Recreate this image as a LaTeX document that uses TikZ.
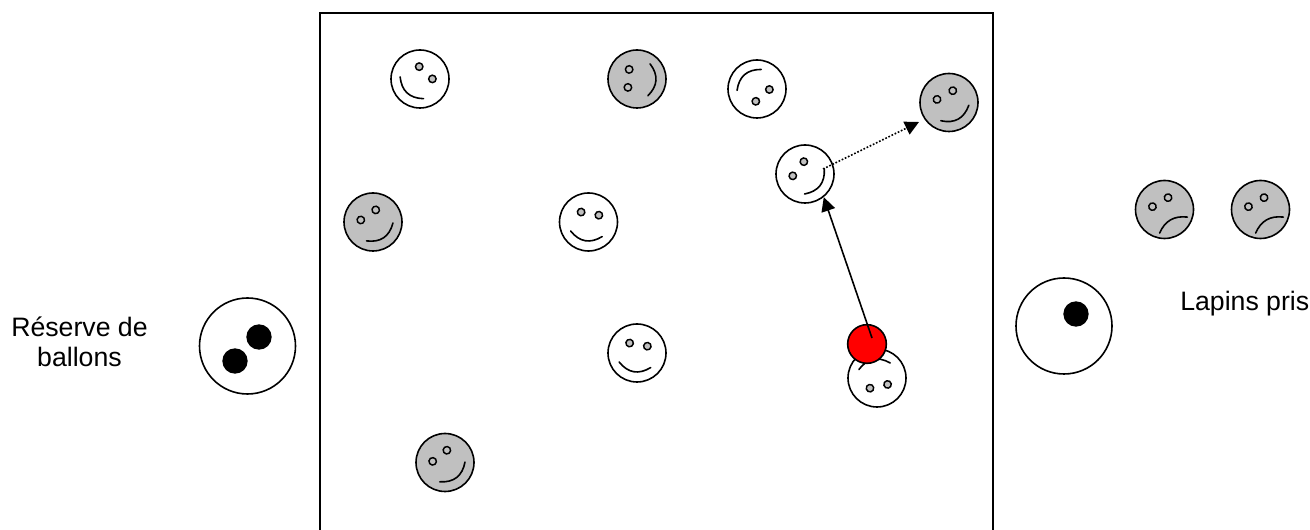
\documentclass[tikz,border=0pt]{standalone}
\usepackage{fontspec}
\setmainfont{Liberation Sans}
\usetikzlibrary{arrows.meta}
\definecolor{gris}{HTML}{C0C0C0}
\tikzset{
	lapin/.style={circle, draw, line width=1.2pt, minimum size=43.5pt, inner sep=0pt},
	oeil/.style={draw, fill=gris, line width=1.1pt},
	bouche/.style={line width=1.2pt, line cap=round},
	sac/.style={circle, draw, fill=white, line width=1.2pt, minimum size=72pt, inner sep=0pt},
	ballon/.style={circle, fill=black, minimum size=19pt, inner sep=0pt},
	balle/.style={circle, draw, fill=red, line width=1.2pt, minimum size=29pt, inner sep=0pt},
	fleche/.style={line width=1.2pt, -{Triangle[length=10.5pt, width=10.5pt]}},
	legende/.style={align=center, font=\fontsize{20}{22.5}\selectfont}
}
\begin{document}
\begin{tikzpicture}[x=0.75pt, y=-0.75pt]
\useasboundingbox (0,0) rectangle (1310,530);

% Terrain
\draw[line width=1.2pt] (320,530) -- (320,13) -- (993,13) -- (993,530);

% Lapins
\foreach \nom/\x/\y/\a/\coul/\yb/\yc in {
	a/420/79/-43/white/12/26, b/637/79/86/gris/12/26, c/757/89/-139/white/12/26,
	d/949/102.5/29/gris/12/26, e/805/174/52/white/12/26, f/373/222/34/gris/12/26,
	g/588.5/222/-10/white/12/26, h/637/353/-10/white/12/26, i/445/462.5/38/gris/12/26,
	j/877/378/-168/white/12/26, k/1164.5/209.5/30/gris/18/6, l/1260.5/209.5/30/gris/18/6}
{
	\node[lapin, fill=\coul] (\nom) at (\x,\y) {};
	\begin{scope}[shift={(\x,\y)}, rotate=\a]
		\draw[oeil] (-9,-8.5) circle (2.8pt);
		\draw[oeil] (9,-8.5) circle (2.8pt);
		\draw[bouche] (-16,\yb) .. controls (-5.33,{\yb+2/3*(\yc-\yb)}) and (5.33,{\yb+2/3*(\yc-\yb)}) .. (16,\yb);
	\end{scope}
}

% Reserves de ballons
\node[sac] (reserve) at (247.5,346) {};
\node[ballon] (b1) at (259,337) {};
\node[ballon] (b2) at (235,361) {};
\node[sac] (pris) at (1064,326) {};
\node[ballon] (b3) at (1076,314) {};

% Balle et trajets
\node[balle] (tir) at (867,344) {};
\coordinate (depart) at (872,338);
\coordinate (rebond) at (823,169);
\coordinate (cible) at (919,122);
\draw[fleche] (depart) -- (e.-51);
\draw[fleche, dash pattern=on 1.3pt off 1.3pt] (rebond) -- (cible);

\node[legende] (tres) at (79.5,342) {Réserve de\\ballons};
\node[legende, anchor=west, inner sep=0pt] (tlap) at (1180,304) {Lapins pris};
\end{tikzpicture}
\end{document}
